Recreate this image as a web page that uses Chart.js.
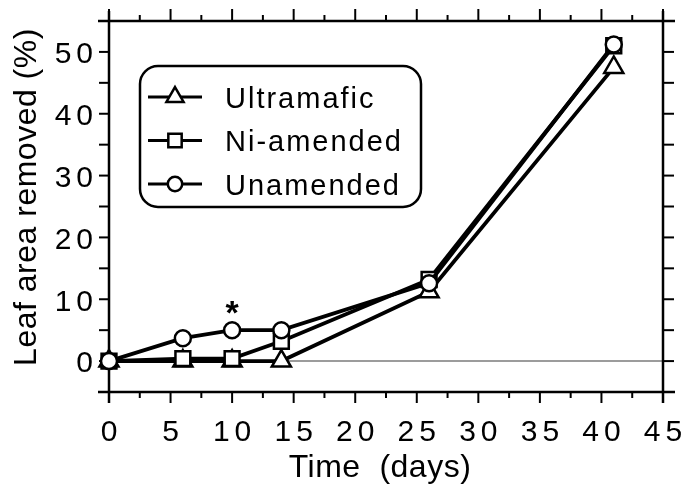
<!DOCTYPE html>
<html>
<head>
<meta charset="utf-8">
<script src="https://cdn.jsdelivr.net/npm/chart.js@4"></script>
<style>
  body { margin: 0; background: #fff; }
  canvas { display: block; }
</style>
</head>
<body>
<canvas id="grafico" width="685" height="486"></canvas>
<script>
// dados
const dias = [0, 6, 10, 14, 26, 41];
const ultramafic = [0, 0, 0, 0, 11.2, 47.5];
const niAmended = [0, 0.4, 0.4, 3.2, 13.2, 51];
const unamended = [0, 3.7, 5.0, 5.0, 12.6, 51.2];
const nomesSeries = ['Ultramafic', 'Ni-amended', 'Unamended'];

const xTicks = [0, 5, 10, 15, 20, 25, 30, 35, 40, 45];
const yTicks = [0, 10, 20, 30, 40, 50];
const xTitulo = 'Time  (days)';
const yTitulo = 'Leaf area removed (%)';
const asterisco = { x: 10, y: 9, texto: '*' };

const FONTE = '"Liberation Sans", Arial, Helvetica, sans-serif';

function pontos(valores) {
    return dias.map((d, i) => ({ x: d, y: valores[i] }));
}

function serie(label, valores, estilo, raio, ordem) {
    return {
        label: label,
        data: pontos(valores),
        borderColor: '#000',
        borderWidth: 3.8,
        pointStyle: estilo,
        pointRadius: raio,
        pointBorderWidth: 2.5,
        pointBackgroundColor: '#fff',
        pointBorderColor: '#000',
        tension: 0,
        clip: false,
        order: ordem
    };
}

function linha(ctx, x1, y1, x2, y2) {
    ctx.beginPath();
    ctx.moveTo(x1, y1);
    ctx.lineTo(x2, y2);
    ctx.stroke();
}

// eixos, marcas, rótulos e títulos
const moldura = {
    id: 'moldura',
    beforeDatasetsDraw(chart) {
        const { ctx, chartArea: a, scales: { x, y } } = chart;
        ctx.save();

        // linha do zero (cinza)
        ctx.strokeStyle = '#9c9c9c';
        ctx.lineWidth = 2;
        const y0 = y.getPixelForValue(0);
        linha(ctx, a.left, y0, a.right, y0);

        // caixa dos eixos, com as linhas passando dos cantos
        ctx.strokeStyle = '#000';
        ctx.lineWidth = 2.5;
        linha(ctx, a.left, a.top - 10, a.left, a.bottom + 11);
        linha(ctx, a.right, a.top - 10, a.right, a.bottom + 11);
        linha(ctx, a.left - 11, a.top, a.right + 12, a.top);
        linha(ctx, a.left - 11, a.bottom, a.right + 12, a.bottom);

        ctx.lineWidth = 2;
        // marcas verticais (a cada 5)
        for (let v = -5; v <= 55; v += 5) {
            const py = y.getPixelForValue(v);
            linha(ctx, a.left - 10, py, a.left, py);
            linha(ctx, a.right, py, a.right + 11, py);
        }
        // marcas horizontais (maiores a cada 5, menores a cada 2.5)
        for (let v = 0; v <= 45; v += 2.5) {
            const px = x.getPixelForValue(v);
            const maior = v % 5 === 0;
            linha(ctx, px, a.bottom, px, a.bottom + (maior ? 11 : 6));
            linha(ctx, px, a.top, px, a.top - (maior ? 12 : 6));
        }

        // rótulos
        ctx.fillStyle = '#000';
        ctx.font = '30px ' + FONTE;
        ctx.letterSpacing = '5px';
        ctx.textBaseline = 'middle';
        ctx.textAlign = 'right';
        yTicks.forEach(v => {
            ctx.fillText(String(v), 98, y.getPixelForValue(v) + 3);
        });
        ctx.textAlign = 'center';
        xTicks.forEach(v => {
            ctx.fillText(String(v), x.getPixelForValue(v) + 2.5, 433);
        });

        // títulos
        ctx.letterSpacing = '0.5px';
        ctx.font = '32px ' + FONTE;
        ctx.textBaseline = 'alphabetic';
        ctx.fillText(xTitulo, (a.left + a.right) / 2 - 6, 477);
        ctx.save();
        ctx.translate(36, 197);
        ctx.rotate(-Math.PI / 2);
        ctx.fillText(yTitulo, 0, 0);
        ctx.restore();

        ctx.restore();
    },
    afterDatasetsDraw(chart) {
        const { ctx, scales: { x, y } } = chart;
        ctx.save();

        // asterisco
        ctx.fillStyle = '#000';
        ctx.font = 'bold 34px ' + FONTE;
        ctx.textAlign = 'center';
        ctx.textBaseline = 'alphabetic';
        ctx.fillText(asterisco.texto, x.getPixelForValue(asterisco.x), y.getPixelForValue(asterisco.y) + 19);

        // legenda em caixa arredondada
        const bx = 140, by = 66, bw = 281, bh = 141;
        ctx.beginPath();
        ctx.roundRect(bx, by, bw, bh, 18);
        ctx.fillStyle = '#fff';
        ctx.fill();
        ctx.strokeStyle = '#000';
        ctx.lineWidth = 2.5;
        ctx.stroke();

        ctx.font = '29px ' + FONTE;
        ctx.letterSpacing = '2px';
        ctx.textAlign = 'left';
        ctx.textBaseline = 'alphabetic';
        chart.data.datasets.forEach((ds, i) => {
            const ry = 97 + i * 43.5;
            ctx.strokeStyle = '#000';
            ctx.lineWidth = 3;
            linha(ctx, 148, ry, 202, ry);
            ctx.fillStyle = '#fff';
            ctx.lineWidth = 2.5;
            Chart.helpers.drawPoint(ctx, { pointStyle: ds.pointStyle, radius: ds.pointRadius * 0.9, rotation: 0, borderWidth: 2.5 }, 175, ry);
            ctx.fillStyle = '#000';
            ctx.fillText(ds.label, 225, ry + 10.5);
        });

        ctx.restore();
    }
};

new Chart(document.getElementById('grafico').getContext('2d'), {
    type: 'line',
    data: {
        datasets: [
            serie(nomesSeries[0], ultramafic, 'triangle', 11, 3),
            serie(nomesSeries[1], niAmended, 'rect', 10.5, 2),
            serie(nomesSeries[2], unamended, 'circle', 8, 1)
        ]
    },
    options: {
        responsive: false,
        animation: false,
        layout: { padding: { left: 109, right: 22, top: 21, bottom: 94 } },
        plugins: {
            legend: { display: false },
            tooltip: { enabled: false }
        },
        scales: {
            x: { type: 'linear', min: 0, max: 45, display: false },
            y: { type: 'linear', min: -5, max: 55, display: false }
        }
    },
    plugins: [moldura]
});
</script>
</body>
</html>
